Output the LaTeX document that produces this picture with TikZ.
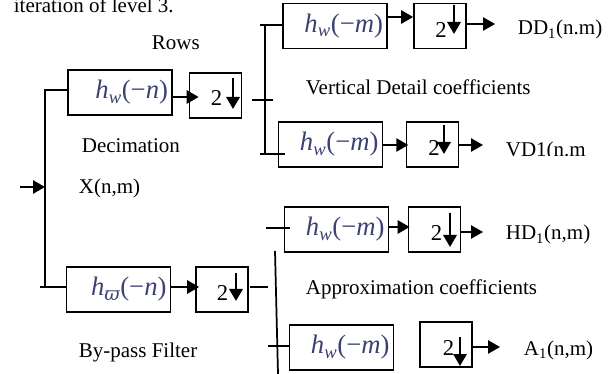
\documentclass[tikz,border=0pt]{standalone}
\usepackage{fontspec}
\setmainfont{Liberation Serif}
\newfontfamily\dvserif{DejaVu Serif}
\usetikzlibrary{arrows.meta,calc}
\definecolor{mathcol}{RGB}{60,65,115}
\newcommand\hw[1]{\textit{h}\textsubscript{\textit{w}}(−\textit{#1})}
\newcommand\hp[1]{\textit{h}\textsubscript{{\dvserif\itshape ϖ}}(−\textit{#1})}
\begin{document}
\begin{tikzpicture}[x=0.75pt,y=-0.75pt, line width=1.3pt,
 filt/.style={draw, minimum height=33.75pt, text width=72pt, inner xsep=3pt, inner ysep=0pt, align=right, text=mathcol, font=\fontsize{20}{22}\selectfont},
 dbox/.style={draw, minimum width=39pt, minimum height=33.75pt, inner sep=0pt},
 arr/.style={-{Triangle[length=9pt,width=10pt]}},
 darr/.style={line width=1.6pt, -{Triangle[length=9pt,width=10pt]}},
 lbl/.style={anchor=base west, inner sep=0pt, font=\fontsize{15.75}{18}\selectfont},
 two/.style={inner sep=0pt, font=\fontsize{17}{19}\selectfont}]
\useasboundingbox (0,0) rectangle (611,374);

% filter boxes
\node[filt] (hA)  at (120,92.5)   {\hw{n}};
\node[filt] (hB)  at (118.5,289.5) {\hp{n}};
\node[filt] (hDD) at (335,26)     {\hw{m}};
\node[filt] (hVD) at (330.5,144.5) {\hw{m}};
\node[filt] (hHD) at (336.5,229.5) {\hw{m}};
\node[filt] (hA1) at (341.5,347.5) {\hw{m}};

% decimation boxes
\node[dbox] (dA)  at (215.5,95.5) {};
\node[dbox] (dB)  at (222,289.5) {};
\node[dbox] (dDD) at (440,26) {};
\node[dbox] (dVD) at (432.5,144.5) {};
\node[dbox] (dHD) at (434.5,229.5) {};
\node[dbox] (dA1) at (446,344.5) {};

% "2" with down arrow
\node[two] (dA2)  at (216.5,98) {2};   \draw[darr] (233,78) -- (233,109);
\node[two] (dB2)  at (222.5,293) {2};  \draw[darr] (236,273) -- (236,301);
\node[two] (dDD2) at (441,30) {2};     \draw[darr] (454,5) -- (454,34);
\node[two] (dVD2) at (434,148) {2};    \draw[darr] (444,125) -- (444,154);
\node[two] (dHD2) at (436.5,233) {2};  \draw[darr] (450,213) -- (450,247);
\node[two] (dA12) at (448.5,348) {2};  \draw[darr] (460,337) -- (460,366);

% coordinates
\coordinate (xin) at (20,187);
\coordinate (j1m) at (45,187);
\coordinate (j1t) at (45,90);
\coordinate (j1b) at (45,287);
\coordinate (j1bl) at (40,287);
\coordinate (s1) at (252,100);
\coordinate (s2) at (273,100);
\coordinate (v1a) at (265,25);
\coordinate (v1b) at (265,154);
\coordinate (v1tl) at (260,25);
\coordinate (v1bl) at (260,154);
\coordinate (v1br) at (285,154);
\coordinate (s3) at (250,287);
\coordinate (s4) at (268,287);
\coordinate (v2a) at (275,251);
\coordinate (v2b) at (278,374);
\coordinate (h1) at (266,228);
\coordinate (h2) at (290,228);
\coordinate (a1) at (268,346);
\coordinate (a2) at (290,346);
\coordinate (oDD) at (495,24);
\coordinate (oVD) at (483,145);
\coordinate (oHD) at (483,232);
\coordinate (oA) at (500,347);

% connectors
\draw[arr] (xin) -- (j1m);
\draw (hA.west |- j1t) -- (j1t) -- (j1b);
\draw (j1bl) -- (hB.west |- j1bl);
\draw[arr, shorten >=-7.5pt] (hA.east |- 0,97) -- (dA.west |- 0,97);
\draw[arr, shorten >=-3pt] (hB.east |- 0,287) -- (dB.west |- 0,287);
\draw (s1) -- (s2);
\draw (v1a) -- (v1b);
\draw (v1tl) -- (hDD.west |- v1tl);
\draw (v1bl) -- (v1br);
\draw (s3) -- (s4);
\draw (v2a) -- (v2b);
\draw (h1) -- (h2);
\draw (a1) -- (a2);
\draw[arr] (hDD.east |- 0,17) -- (dDD.west |- 0,17);
\draw[arr] (dDD.east |- oDD) -- (oDD);
\draw[arr, shorten >=-2pt] (hVD.east |- 0,145) -- (dVD.west |- 0,145);
\draw[arr] (dVD.east |- oVD) -- (oVD);
\draw[arr, shorten >=-1.5pt] (hHD.east |- 0,227) -- (dHD.west |- 0,227);
\draw[arr] (dHD.east |- oHD) -- (oHD);
\draw[arr] (dA1.east |- oA) -- (oA);

% labels
\node[lbl] (title) at (13,13) {iteration of level 3.};
\node[lbl] (rows) at (151,50) {Rows};
\node[lbl] (dec) at (81,153) {Decimation};
\node[lbl] (xnm) at (78,194) {X(n,m)};
\node[lbl] (vdc) at (305,95) {Vertical Detail coefficients};
\node[lbl] (ddl) at (517,35) {DD\textsubscript{1}(n.m)};
\begin{scope}
\clip (500,120) rectangle (611,156);
\node[lbl] (vdl) at (505,157) {VD1(n.m};
\end{scope}
\node[lbl] (hdl) at (505,240) {HD\textsubscript{1}(n,m)};
\node[lbl] (apc) at (305,295) {Approximation coefficients};
\node[lbl] (a1l) at (523,355) {A\textsubscript{1}(n,m)};
\node[lbl] (bpf) at (78,358) {By-pass Filter};
\end{tikzpicture}
\end{document}
